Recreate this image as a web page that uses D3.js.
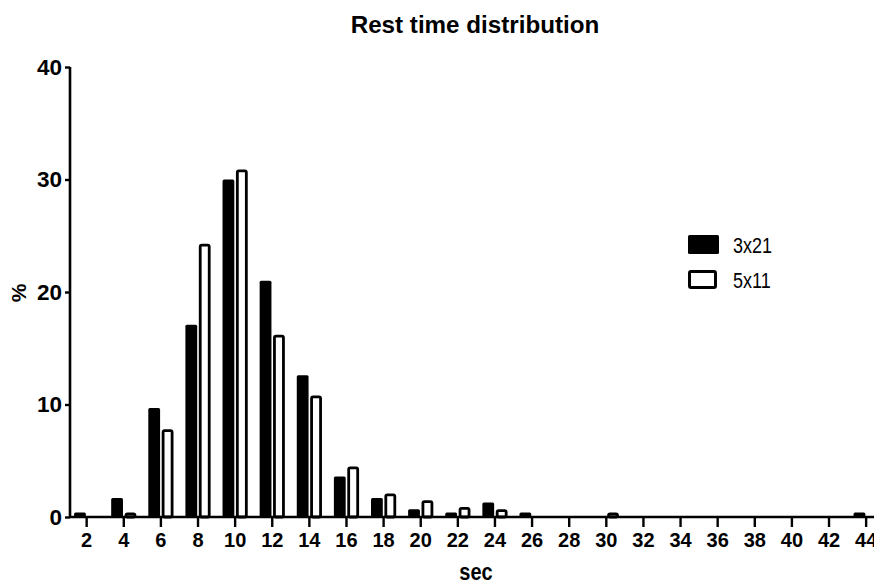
<!DOCTYPE html>
<html>
<head>
<meta charset="utf-8">
<script src="https://cdn.jsdelivr.net/npm/d3@7"></script>
<style>
  html, body { margin: 0; padding: 0; background: #fff; }
  svg { display: block; }
  text { font-family: "Liberation Sans", Arial, sans-serif; fill: #000; }
</style>
</head>
<body>
<svg id="chart" width="874" height="584"></svg>
<script>
const categories = [2,4,6,8,10,12,14,16,18,20,22,24,26,28,30,32,34,36,38,40,42,44];
const seriesNames = ["3x21", "5x11"];
const values3x21 = [0.4,1.7,9.7,17.1,30.0,21.0,12.6,3.6,1.7,0.7,0.4,1.3,0.4,0,0,0,0,0,0,0,0,0.4];
const values5x11 = [0,0.4,7.8,24.3,30.9,16.2,10.8,4.5,2.1,1.5,0.9,0.7,0,0,0.4,0,0,0,0,0,0,0];
const yTicks = [0,10,20,30,40];
const titleText = "Rest time distribution";
const xLabel = "sec";
const yLabel = "%";

const svg = d3.select("#chart");
const margin = {left: 68.1, right: 884.7, top: 67, bottom: 517};

const x = d3.scaleBand().domain(categories).range([margin.left, margin.right]).padding(0);
const bw = x.bandwidth();
const xSub = d3.scaleBand().domain(seriesNames).range([bw/2 - 12.6, bw/2 + 12.6]).paddingInner(0.12);
const y = d3.scaleLinear().domain([0, 40]).range([margin.bottom, margin.top]);

const data = categories.map((c, i) => ({cat: c, vals: [
  {s: seriesNames[0], v: values3x21[i]},
  {s: seriesNames[1], v: values5x11[i]}
]}));

// bars
const groups = svg.append("g").selectAll("g").data(data).join("g")
  .attr("transform", d => `translate(${x(d.cat)},0)`);

groups.selectAll("rect").data(d => d.vals.filter(e => e.v > 0)).join("rect")
  .attr("x", e => e.s === "3x21" ? xSub(e.s) : xSub(e.s) + 1.4)
  .attr("y", e => e.s === "3x21" ? y(e.v) : y(e.v) + 1.4)
  .attr("width", e => e.s === "3x21" ? xSub.bandwidth() : xSub.bandwidth() - 2.8)
  .attr("height", e => e.s === "3x21" ? y(0) - y(e.v) : Math.max(0.1, y(0) - y(e.v) - 1.4))
  .attr("rx", 1.5)
  .attr("fill", e => e.s === "3x21" ? "#000" : "#fff")
  .attr("stroke", e => e.s === "3x21" ? "none" : "#000")
  .attr("stroke-width", 2.8);

// axes
const xAxis = d3.axisBottom(x).tickSize(10).tickPadding(4);
const gx = svg.append("g").attr("transform", `translate(0,${margin.bottom})`).call(xAxis);
gx.select(".domain").attr("d", `M70,0H884`).attr("stroke-width", 2.6);
gx.selectAll(".tick line").attr("stroke-width", 2.4);
gx.selectAll(".tick text").attr("font-size", 20).attr("font-weight", "bold")
  .attr("dy", "0.78em")
  .style("font-family", "'Liberation Sans', Arial, sans-serif");

const yAxis = d3.axisLeft(y).tickValues(yTicks).tickSize(5).tickPadding(3);
const gy = svg.append("g").attr("transform", `translate(70,0)`).call(yAxis);
gy.select(".domain").attr("d", `M0,${margin.top}V${margin.bottom}`).attr("stroke-width", 2.6);
gy.selectAll(".tick line").attr("stroke-width", 2.4);
gy.selectAll(".tick text").attr("font-size", 22.5).attr("font-weight", "bold")
  .style("font-family", "'Liberation Sans', Arial, sans-serif");

// title & labels
svg.append("text").attr("x", 475).attr("y", 33).attr("text-anchor", "middle")
  .attr("font-size", 24.2).attr("font-weight", "bold").text(titleText);
svg.append("text").attr("transform", "translate(476,580) scale(1,1.15)").attr("text-anchor", "middle")
  .attr("font-size", 20).attr("font-weight", "bold").text(xLabel);
svg.append("text").attr("transform", "translate(26,293) rotate(-90)").attr("text-anchor", "middle")
  .attr("font-size", 21).attr("font-weight", "bold").text(yLabel);

// legend
const legend = svg.append("g");
seriesNames.forEach((s, i) => {
  const ly = 235 + i * 35;
  if (i === 0) {
    legend.append("rect").attr("x", 688).attr("y", ly).attr("width", 31).attr("height", 19).attr("rx", 1.5).attr("fill", "#000");
  } else {
    legend.append("rect").attr("x", 689.5).attr("y", ly + 1.5).attr("width", 26).attr("height", 16).attr("rx", 1.5)
      .attr("fill", "#fff").attr("stroke", "#000").attr("stroke-width", 3);
  }
  legend.append("text").attr("transform", `translate(733,${ly + 18}) scale(1,1.18)`)
    .attr("font-size", 18).text(s);
});
</script>
</body>
</html>
